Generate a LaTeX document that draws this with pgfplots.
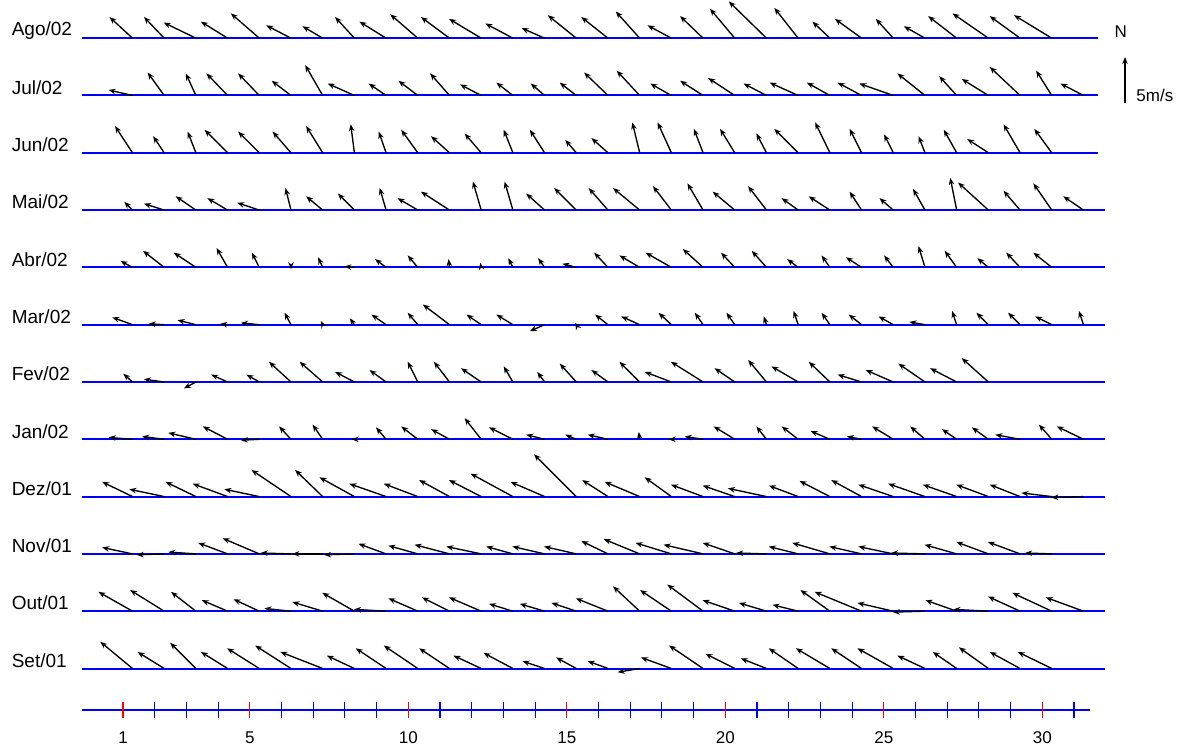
\documentclass[border=0pt]{standalone}
\usepackage{pgfplots}
\pgfplotsset{compat=1.18}
\usepackage{pgfplotstable}
\usepackage{fontspec}
\setmainfont{Liberation Sans}
\usetikzlibrary{arrows.meta}

\tikzset{lab/.style={anchor=west, font=\fontsize{19}{19}\selectfont}}
\pgfplotsset{
  stick/.style={black, line width=1.35pt, -{Stealth[length=7pt,width=5.5pt]},
    quiver={u=\thisrow{u}*0.2902, v=\thisrow{v}*9.2}},
  base/.style={blue, line width=2pt},
}

\pgfplotstableread{
d u v
1 -2.5 2.3
2 -2.2 2.3
3 -3.5 1.7
4 -2.9 1.8
5 -3.1 2.7
6 -2.7 1.4
7 -2.2 1.3
8 -2.1 2.3
9 -2.9 1.8
10 -3.0 2.6
11 -3.1 2.3
12 -3.5 2.1
13 -3.0 1.6
14 -2.5 1.1
15 -3.1 2.5
16 -2.9 2.3
17 -2.6 2.9
18 -2.6 1.4
19 -2.5 2.4
20 -2.7 3.2
21 -4.1 4.0
22 -2.6 3.3
23 -1.9 1.8
24 -2.9 2.1
25 -1.9 2.1
26 -2.3 1.3
27 -3.1 2.4
28 -3.9 2.7
29 -3.3 2.4
30 -4.1 2.5
}\ago

\pgfplotstableread{
d u v
1 -2.6 0.6
2 -1.8 2.5
3 -1.1 2.4
4 -2.3 2.4
5 -2.3 2.4
6 -2.1 1.6
7 -1.9 3.3
8 -2.9 1.3
9 -1.9 1.3
10 -2.1 1.6
11 -2.1 2.4
12 -2.3 1.2
13 -1.8 1.4
14 -1.5 1.3
15 -1.8 1.4
16 -2.6 2.5
17 -2.5 2.7
18 -2.3 1.3
19 -2.5 1.6
20 -2.9 1.9
21 -2.5 1.3
22 -3.1 1.4
23 -2.5 1.4
24 -2.6 1.4
25 -3.7 1.3
26 -3.0 2.4
27 -1.9 2.1
28 -2.9 1.8
29 -3.3 3.1
30 -1.7 2.7
31 -2.5 1.3
}\jul

\pgfplotstableread{
d u v
1 -1.9 2.9
2 -1.2 1.8
3 -0.9 2.3
4 -2.5 2.5
5 -2.3 2.3
6 -2.0 2.3
7 -1.8 2.9
8 -0.4 3.1
9 -0.8 2.3
10 -1.8 2.5
11 -2.0 1.8
12 -1.8 2.1
13 -1.0 2.5
14 -1.6 2.5
15 -1.2 1.4
16 -1.8 1.6
17 -0.8 3.3
18 -1.5 3.3
19 -1.0 2.6
20 -1.6 2.6
21 -1.1 2.1
22 -2.6 2.6
23 -1.6 3.3
24 -1.3 2.6
25 -1.0 2.0
26 -0.7 1.8
27 -1.4 2.5
28 -2.3 1.5
29 -1.8 3.1
30 -1.9 2.6
}\jun

\pgfplotstableread{
d u v
1 -0.9 0.9
2 -2.2 0.7
3 -2.2 1.5
4 -2.2 1.3
5 -2.4 0.8
6 -0.6 2.4
7 -1.8 1.5
8 -1.8 1.8
9 -0.7 2.4
10 -2.2 1.3
11 -3.1 2.0
12 -0.9 3.1
13 -0.9 3.1
14 -2.0 1.8
15 -2.4 2.4
16 -2.1 2.4
17 -2.9 2.4
18 -2.0 2.6
19 -1.7 2.9
20 -2.4 2.0
21 -2.0 2.6
22 -1.8 1.3
23 -2.3 1.5
24 -1.3 2.0
25 -1.5 1.3
26 -1.3 2.3
27 -0.7 3.5
28 -3.3 3.0
29 -1.8 2.1
30 -2.0 2.9
31 -2.2 1.5
}\mai

\pgfplotstableread{
d u v
1 -1.3 0.7
2 -2.3 1.8
3 -2.4 1.6
4 -1.2 2.1
5 -0.8 1.6
6 0.0 -0.2
7 -0.5 1.1
8 -1.1 0.1
9 -1.2 0.9
10 -1.1 1.3
11 -0.1 0.9
12 -0.1 0.5
13 -0.5 1.0
14 -0.7 1.0
15 -1.5 0.4
16 -1.5 1.6
17 -2.2 1.3
18 -2.8 1.6
19 -2.2 2.0
20 -1.5 1.6
21 -1.6 1.8
22 -1.2 0.9
23 -0.9 1.3
24 -1.7 1.1
25 -1.0 1.3
26 -0.7 2.3
27 -1.3 1.8
28 -1.2 1.0
29 -1.5 1.6
30 -2.0 1.6
}\abr

\pgfplotstableread{
d u v
1 -2.2 0.8
2 -1.7 0.1
3 -2.0 0.5
4 -0.8 0.1
5 -2.0 0.2
6 -0.7 1.3
7 -0.2 0.4
8 -0.5 0.7
9 -1.6 1.1
10 -1.1 1.3
11 -2.9 2.2
12 -1.6 1.1
13 -1.8 1.1
14 -1.6 -0.7
15 -0.1 0.2
16 -1.4 1.1
17 -2.0 0.9
18 -1.4 1.3
19 -0.9 1.3
20 -0.9 1.3
21 -0.3 0.9
22 -0.5 1.5
23 -0.9 1.3
24 -1.4 1.1
25 -1.6 0.9
26 -1.7 0.3
27 -0.5 1.5
28 -1.3 1.3
29 -1.3 1.3
30 -1.8 0.9
31 -0.5 1.5
}\mar

\pgfplotstableread{
d u v
1 -1.0 0.9
2 -2.2 0.3
3 -1.3 -0.7
4 -1.8 0.8
5 -1.4 0.8
6 -2.4 2.2
7 -2.5 2.2
8 -2.1 1.1
9 -1.8 1.3
10 -1.1 2.2
11 -1.7 2.2
12 -2.2 1.5
13 -1.0 1.7
14 -0.8 1.1
15 -1.8 2.0
16 -1.8 1.3
17 -2.2 2.2
18 -2.9 1.1
19 -3.5 2.2
20 -2.2 1.5
21 -2.0 2.4
22 -2.9 1.7
23 -2.3 2.2
24 -2.6 0.8
25 -3.0 1.3
26 -2.9 2.0
27 -2.9 1.5
28 -2.9 2.6
}\fev

\pgfplotstableread{
d u v
1 -2.6 0.2
2 -2.4 0.3
3 -3.0 0.7
4 -2.7 1.4
5 -2.0 -0.1
6 -1.3 1.4
7 -1.1 1.6
8 -0.3 0.0
9 -1.1 1.3
10 -1.8 1.4
11 -2.0 1.1
12 -1.8 2.3
13 -2.6 1.3
14 -2.0 0.5
15 -1.2 0.5
16 -2.2 0.5
17 -0.1 0.8
18 -0.3 0.0
19 -2.0 0.3
20 -2.3 1.4
21 -1.1 1.4
22 -1.8 1.4
23 -2.1 0.9
24 -1.6 0.3
25 -2.3 1.4
26 -1.6 1.4
27 -1.6 1.1
28 -1.8 1.3
29 -2.7 0.5
30 -1.4 1.6
31 -2.9 1.4
}\jan

\pgfplotstableread{
d u v
1 -3.3 1.6
2 -3.8 0.8
3 -3.3 1.6
4 -3.8 1.4
5 -3.8 0.8
6 -4.3 2.9
7 -3.0 2.9
8 -3.8 2.1
9 -4.0 1.4
10 -3.7 1.4
11 -3.3 1.8
12 -3.5 1.8
13 -4.6 2.5
14 -3.7 1.6
15 -4.6 4.6
16 -2.8 1.8
17 -3.8 1.6
18 -2.9 2.1
19 -3.5 1.3
20 -3.5 1.2
21 -4.2 0.9
22 -3.2 1.2
23 -3.3 1.7
24 -3.3 1.8
25 -3.8 1.3
26 -4.0 1.4
27 -3.7 1.3
28 -3.5 1.3
29 -3.3 1.3
30 -3.3 0.4
31 -3.5 -0.1
}\dez

\pgfplotstableread{
d u v
1 -3.3 0.7
2 -3.0 -0.1
3 -3.0 0.2
4 -3.2 1.2
5 -4.0 1.7
6 -3.3 0.1
7 -3.3 0.0
8 -3.3 -0.1
9 -3.0 1.1
10 -3.2 0.9
11 -3.8 1.0
12 -3.8 0.8
13 -2.9 0.8
14 -3.5 0.8
15 -3.5 0.8
16 -2.9 1.4
17 -3.9 1.6
18 -3.9 1.2
19 -4.3 1.0
20 -3.5 1.2
21 -3.3 0.1
22 -3.2 0.8
23 -4.1 1.2
24 -3.5 0.8
25 -3.8 0.8
26 -3.7 0.1
27 -3.5 1.0
28 -3.5 1.3
29 -3.5 1.3
30 -2.9 0.1
}\nov

\pgfplotstableread{
d u v
1 -3.7 2.1
2 -3.7 2.3
3 -2.7 2.1
4 -2.8 1.2
5 -2.8 1.3
6 -2.9 0.3
7 -3.3 1.0
8 -3.5 2.0
9 -3.5 0.2
10 -3.2 1.4
11 -3.0 1.5
12 -3.5 1.5
13 -2.6 0.8
14 -2.7 0.8
15 -2.7 0.9
16 -3.5 1.4
17 -2.9 2.7
18 -3.4 2.3
19 -3.9 2.9
20 -3.5 1.2
21 -3.0 0.9
22 -2.8 0.7
23 -3.2 2.3
24 -5.1 2.1
25 -3.9 0.9
26 -3.5 -0.1
27 -3.4 1.2
28 -3.8 0.2
29 -3.5 1.6
30 -4.3 2.0
31 -4.1 1.5
}\out

\pgfplotstableread{
d u v
1 -3.5 2.9
2 -2.9 1.8
3 -2.8 2.8
4 -2.9 1.8
5 -3.5 2.2
6 -3.9 2.5
7 -4.6 1.8
8 -3.0 1.4
9 -3.3 2.2
10 -3.7 2.5
11 -3.3 2.2
12 -3.0 1.4
13 -3.2 1.7
14 -2.4 0.8
15 -2.2 1.2
16 -2.2 0.8
17 -2.4 -0.4
18 -3.3 1.2
19 -3.7 2.5
20 -3.2 1.6
21 -2.8 1.1
22 -3.2 2.2
23 -3.7 2.2
24 -3.3 2.2
25 -3.9 2.2
26 -3.0 1.4
27 -2.6 1.8
28 -3.2 2.3
29 -3.3 1.8
30 -3.7 1.8
}\set

\begin{document}
\begin{tikzpicture}
\begin{axis}[
  width=1183pt, height=754pt, scale only axis,
  xmin=-2.880, xmax=34.44, ymin=-44, ymax=710,
  axis lines=none, clip=false,
]
\draw[draw=none] (rel axis cs:0,0) rectangle (rel axis cs:1,1);

% baselines
\addplot[base] coordinates {(-0.29,671.8) (31.76,671.8)};
\addplot[base] coordinates {(-0.29,614.5) (31.76,614.5)};
\addplot[base] coordinates {(-0.29,557.2) (31.76,557.2)};
\addplot[base] coordinates {(-0.29,499.9) (31.98,499.9)};
\addplot[base] coordinates {(-0.29,442.6) (31.98,442.6)};
\addplot[base] coordinates {(-0.29,385.3) (31.98,385.3)};
\addplot[base] coordinates {(-0.29,328.0) (31.98,328.0)};
\addplot[base] coordinates {(-0.29,270.7) (31.98,270.7)};
\addplot[base] coordinates {(-0.29,213.4) (31.98,213.4)};
\addplot[base] coordinates {(-0.29,156.1) (31.98,156.1)};
\addplot[base] coordinates {(-0.29,98.8) (31.98,98.8)};
\addplot[base] coordinates {(-0.29,41.5) (31.98,41.5)};

% sticks
\addplot[stick] table[x expr=\thisrow{d}+0.3, y expr=671.8] {\ago};
\addplot[stick] table[x expr=\thisrow{d}+0.3, y expr=614.5] {\jul};
\addplot[stick] table[x expr=\thisrow{d}+0.3, y expr=557.2] {\jun};
\addplot[stick] table[x expr=\thisrow{d}+0.3, y expr=499.9] {\mai};
\addplot[stick] table[x expr=\thisrow{d}+0.3, y expr=442.6] {\abr};
\addplot[stick] table[x expr=\thisrow{d}+0.3, y expr=385.3] {\mar};
\addplot[stick] table[x expr=\thisrow{d}+0.3, y expr=328.0] {\fev};
\addplot[stick] table[x expr=\thisrow{d}+0.3, y expr=270.7] {\jan};
\addplot[stick] table[x expr=\thisrow{d}+0.3, y expr=213.4] {\dez};
\addplot[stick] table[x expr=\thisrow{d}+0.3, y expr=156.1] {\nov};
\addplot[stick] table[x expr=\thisrow{d}+0.3, y expr=98.8] {\out};
\addplot[stick] table[x expr=\thisrow{d}+0.3, y expr=41.5] {\set};

% row labels
\node[lab] at (axis cs:-2.62,679.8) {Ago/02};
\node[lab] at (axis cs:-2.62,622.5) {Jul/02};
\node[lab] at (axis cs:-2.62,565.2) {Jun/02};
\node[lab] at (axis cs:-2.62,507.9) {Mai/02};
\node[lab] at (axis cs:-2.62,450.6) {Abr/02};
\node[lab] at (axis cs:-2.62,393.3) {Mar/02};
\node[lab] at (axis cs:-2.62,336.0) {Fev/02};
\node[lab] at (axis cs:-2.62,278.7) {Jan/02};
\node[lab] at (axis cs:-2.62,221.4) {Dez/01};
\node[lab] at (axis cs:-2.62,164.1) {Nov/01};
\node[lab] at (axis cs:-2.62,106.8) {Out/01};
\node[lab] at (axis cs:-2.62,49.5) {Set/01};

% day axis
\addplot[base] coordinates {(-0.29,0) (31.52,0)};
\addplot[only marks, blue, mark=|, mark size=8pt, mark options={line width=1.1pt}]
  coordinates {(2,0)(3,0)(4,0)(6,0)(7,0)(8,0)(9,0)(11,0)(12,0)(13,0)(14,0)(16,0)(17,0)(18,0)(19,0)(21,0)(22,0)(23,0)(24,0)(26,0)(27,0)(28,0)(29,0)(31,0)};
\addplot[only marks, red, mark=|, mark size=8pt, mark options={line width=1.1pt}]
  coordinates {(1,0)(5,0)(10,0)(15,0)(20,0)(25,0)(30,0)};
\node[font=\fontsize{17}{17}\selectfont] at (axis cs:1,-28) {1};
\node[font=\fontsize{17}{17}\selectfont] at (axis cs:5,-28) {5};
\node[font=\fontsize{17}{17}\selectfont] at (axis cs:10,-28) {10};
\node[font=\fontsize{17}{17}\selectfont] at (axis cs:15,-28) {15};
\node[font=\fontsize{17}{17}\selectfont] at (axis cs:20,-28) {20};
\node[font=\fontsize{17}{17}\selectfont] at (axis cs:25,-28) {25};
\node[font=\fontsize{17}{17}\selectfont] at (axis cs:30,-28) {30};

% scale arrow
\addplot[black, line width=1.2pt, -{Stealth[length=7pt,width=5.5pt]},
  quiver={u=0, v=\thisrow{v}*9.2}] table[row sep=\\] {x y v\\ 32.61 607 5\\};
\node[font=\fontsize{17}{17}\selectfont] at (axis cs:32.48,678) {N};
\node[anchor=west, font=\fontsize{17}{17}\selectfont] at (axis cs:32.86,615) {5m/s};
\end{axis}
\end{tikzpicture}
\end{document}
